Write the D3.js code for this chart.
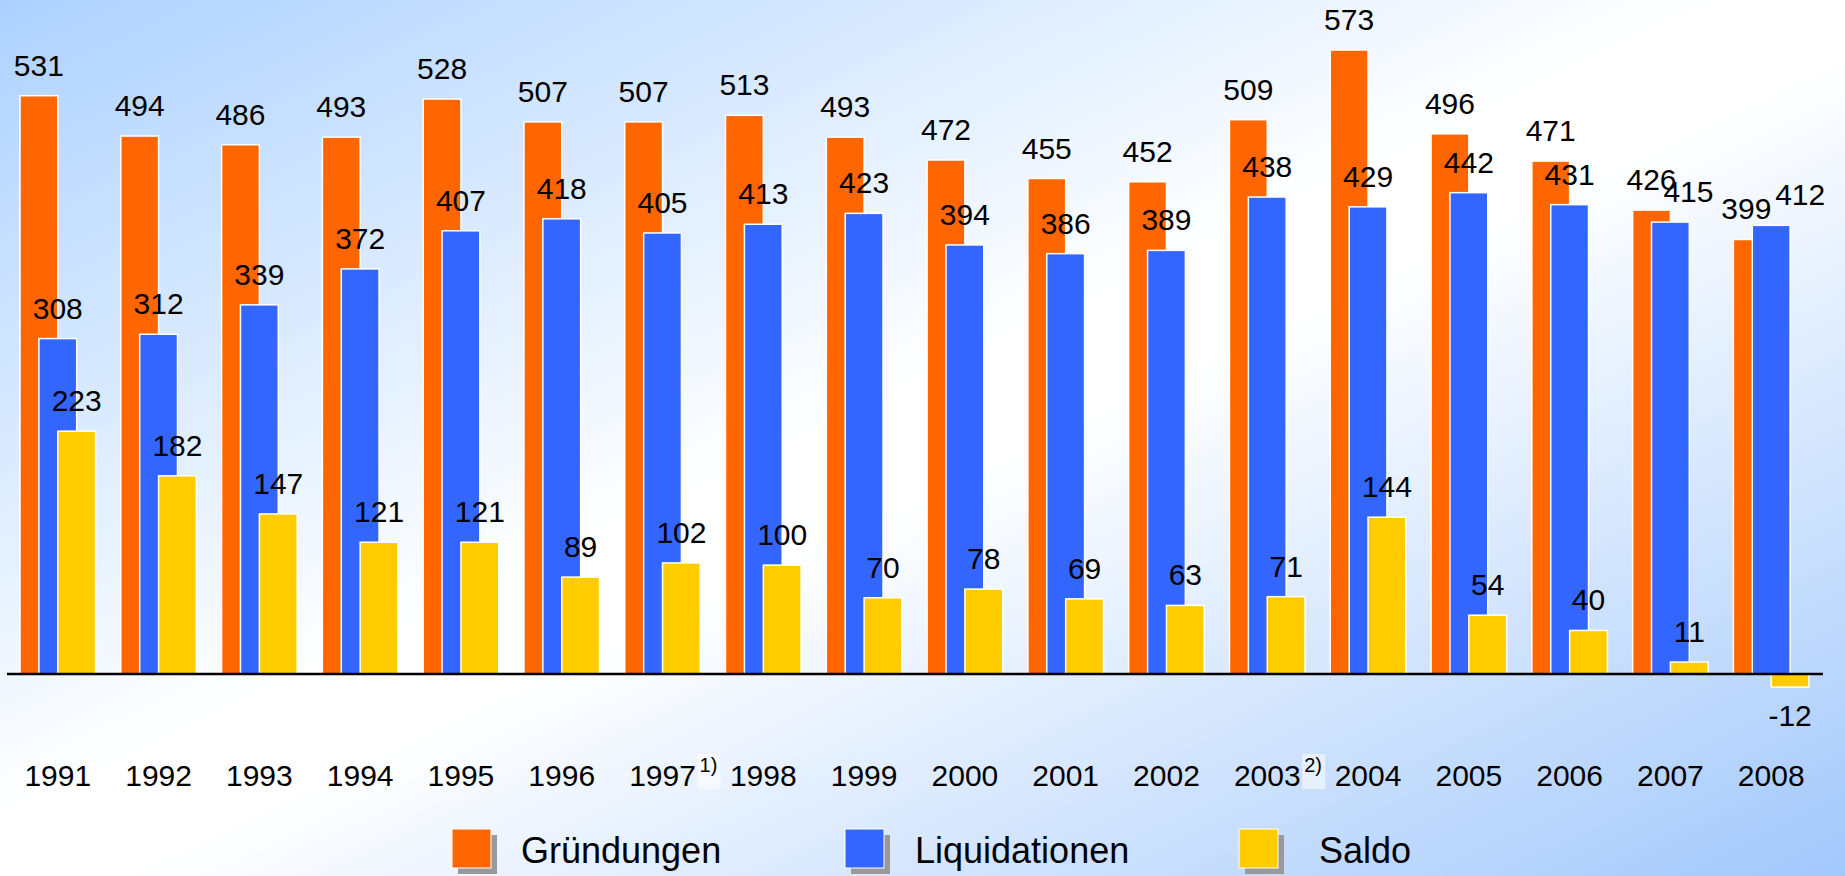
<!DOCTYPE html>
<html>
<head>
<meta charset="utf-8">
<script src="https://cdn.jsdelivr.net/npm/d3@7"></script>
<style>
  html, body { margin: 0; padding: 0; overflow: hidden; }
  svg { display: block; font-family: "Liberation Sans", Arial, sans-serif; }
</style>
</head>
<body>
<svg id="chart" width="1845" height="876"></svg>
<script>
// data
let years = ['1991','1992','1993','1994','1995','1996','1997','1998','1999','2000',
             '2001','2002','2003','2004','2005','2006','2007','2008'];
let footnotes = {'1997': '1)', '2003': '2)'};
let gruendungen    = [531,494,486,493,528,507,507,513,493,472,455,452,509,573,496,471,426,399];
let liquidationen  = [308,312,339,372,407,418,405,413,423,394,386,389,438,429,442,431,415,412];
let saldo          = [223,182,147,121,121,89,102,100,70,78,69,63,71,144,54,40,11,-12];
let seriesNames = ['Gründungen','Liquidationen','Saldo'];
let seriesColors = ['#ff6600','#3366ff','#ffcc00'];

// labels nudged sideways where they would collide (as in the original)
let labelNudge = {'2007|Liquidationen': 18, '2008|Gründungen': -6, '2008|Liquidationen': 29};

let svg = d3.select('#chart');
let width = 1845, height = 876;

// background gradient
let defs = svg.append('defs');
let grad = defs.append('linearGradient')
    .attr('id','bg')
    .attr('x1',0).attr('y1',0).attr('x2',1).attr('y2',1);
grad.append('stop').attr('offset','0').attr('stop-color','#acd1ff');
grad.append('stop').attr('offset','0.47').attr('stop-color','#ffffff');
grad.append('stop').attr('offset','0.53').attr('stop-color','#ffffff');
grad.append('stop').attr('offset','1').attr('stop-color','#a2c8fb');
svg.append('rect').attr('width',width).attr('height',height).attr('fill','url(#bg)');

// scales
let baseY = 674;
let xScale = d3.scaleBand()
    .domain(years)
    .range([20, 1809])
    .paddingInner(0.25)
    .paddingOuter(0)
    .align(0);
let bw = xScale.bandwidth();
let subScale = d3.scalePoint()
    .domain(seriesNames)
    .range([0, bw / 2]);
let barW = bw / 2;
let yScale = d3.scaleLinear()
    .domain([0, 573])
    .range([baseY, baseY - 624]);

// flatten for drawing
let values = [gruendungen, liquidationen, saldo];
let flat = [];
seriesNames.forEach(function(s, si){
    years.forEach(function(y, i){
        flat.push({series: s, si: si, year: y, value: values[si][i]});
    });
});

// bars, drawn series by series so later ones overlap earlier ones
let barGrp = svg.append('g').attr('class','bars');
barGrp.selectAll('rect')
    .data(flat)
    .enter()
    .append('rect')
    .attr('x', d => xScale(d.year) + subScale(d.series))
    .attr('y', d => yScale(Math.max(0, d.value)))
    .attr('width', barW)
    .attr('height', d => Math.abs(yScale(d.value) - yScale(0)))
    .attr('fill', d => seriesColors[d.si])
    .attr('stroke', '#ffffff')
    .attr('stroke-width', 1.5);

// zero line
svg.append('line')
    .attr('x1', 7).attr('x2', 1823)
    .attr('y1', yScale(0)).attr('y2', yScale(0))
    .attr('stroke', '#000').attr('stroke-width', 2.5);

// value labels
svg.append('g').attr('class','labels')
    .selectAll('text')
    .data(flat)
    .enter()
    .append('text')
    .attr('x', d => xScale(d.year) + subScale(d.series) + barW / 2 + (labelNudge[d.year + '|' + d.series] || 0))
    .attr('y', d => d.value >= 0 ? yScale(d.value) - 20 : yScale(d.value) + 39)
    .attr('text-anchor','middle')
    .attr('font-size', 30)
    .attr('fill', '#000')
    .text(d => d.value);

// year labels
let yearGrp = svg.append('g').attr('class','years');
yearGrp.selectAll('text')
    .data(years)
    .enter()
    .append('text')
    .attr('x', d => xScale(d) + bw / 2)
    .attr('y', 786)
    .attr('text-anchor','middle')
    .attr('font-size', 30)
    .text(d => d);

// footnote marks
let fnYears = years.filter(y => footnotes[y]);
let fnGrp = svg.append('g').attr('class','footnotes');
fnGrp.selectAll('rect')
    .data(fnYears)
    .enter()
    .append('rect')
    .attr('x', d => xScale(d) + bw / 2 + 35)
    .attr('y', 754)
    .attr('width', 23)
    .attr('height', 35)
    .attr('fill', '#ffffff')
    .attr('opacity', 0.55);
fnGrp.selectAll('text')
    .data(fnYears)
    .enter()
    .append('text')
    .attr('x', d => xScale(d) + bw / 2 + 37)
    .attr('y', 772)
    .attr('font-size', 20)
    .text(d => footnotes[d]);

// legend
let legX = [452, 845, 1239];
let legTextX = [521, 915, 1319];
let legend = svg.append('g').attr('class','legend');
let items = legend.selectAll('g')
    .data(seriesNames)
    .enter()
    .append('g');
items.append('rect')
    .attr('x', (d, i) => legX[i] + 6).attr('y', 835)
    .attr('width', 39).attr('height', 39)
    .attr('fill', '#999999');
items.append('rect')
    .attr('x', (d, i) => legX[i]).attr('y', 829)
    .attr('width', 39).attr('height', 39)
    .attr('fill', (d, i) => seriesColors[i])
    .attr('stroke', '#ffffff')
    .attr('stroke-width', 1);
items.append('text')
    .attr('x', (d, i) => legTextX[i])
    .attr('y', 863)
    .attr('font-size', 36)
    .text(d => d);
</script>
</body>
</html>
